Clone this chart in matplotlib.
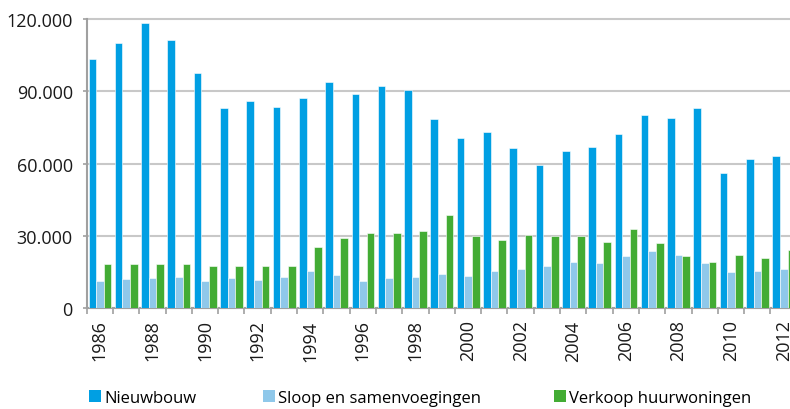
import numpy as np
import matplotlib
matplotlib.use('Agg')
import matplotlib.pyplot as plt
from matplotlib.patches import Patch
from matplotlib.ticker import FuncFormatter

plt.rcParams['font.family'] = ['Open Sans', 'DejaVu Sans']

# data
jaren = list(range(1986, 2013))
nieuwbouw = [103300, 110000, 118500, 111300, 97500, 83000, 86100, 83600, 87200,
             93900, 88900, 92300, 90500, 78500, 70600, 73000, 66600, 59600,
             65100, 66900, 72300, 80200, 78900, 83000, 56000, 61900, 63000]
sloop = [11300, 12300, 12600, 12900, 11300, 12600, 11600, 12900, 15500,
         13700, 11300, 12400, 13000, 14200, 13400, 15500, 16300, 17600,
         19200, 18900, 21600, 23800, 22300, 18800, 14900, 15500, 16200]
verkoop = [18300, 18300, 18300, 18300, 17400, 17400, 17400, 17400, 25400,
           29300, 31200, 31200, 32200, 38900, 30000, 28300, 30500, 30000,
           29900, 27600, 33000, 27200, 21600, 19400, 22000, 20700, 24200]
labels = ['Nieuwbouw', 'Sloop en samenvoegingen', 'Verkoop huurwoningen']
kleuren = ['#009fe3', '#8fc8ea', '#43ac34']

fig = plt.figure(figsize=(7.9, 4.1), dpi=100)
# assen lopen iets voorbij de rechterrand (zoals in het origineel afgesneden)
ax = fig.add_axes([86.7 / 790, 1 - 309.3 / 410, 710.1 / 790, 289.3 / 410])

x = np.arange(len(jaren))
w = 0.29
for i, (serie, kleur) in enumerate(zip([nieuwbouw, sloop, verkoop], kleuren)):
    ax.bar(x + (i - 1) * w + 0.005, serie, width=w, color=kleur,
           edgecolor='white', linewidth=0.4, zorder=3)

ax.set_xlim(-0.5, len(jaren) - 0.5)
ax.set_ylim(0, 120000)
ax.set_yticks([0, 30000, 60000, 90000, 120000])
ax.yaxis.set_major_formatter(FuncFormatter(lambda v, p: f'{int(v):,}'.replace(',', '.')))
ax.grid(axis='y', color='#c8c8c8', linewidth=1.5, zorder=0)
ax.yaxis.grid(True, clip_on=False)

# x-as: labels om het jaar, tickjes op de grenzen
ax.set_xticks(x[::2])
ax.set_xticklabels([str(j) for j in jaren[::2]], rotation=90, va='top', ha='center')
ax.set_xticks(np.arange(-0.5, len(jaren), 1), minor=True)
ax.tick_params(axis='x', which='major', length=0, pad=8, labelsize=13, colors='#1a1a1a')
ax.tick_params(axis='x', which='minor', length=4, width=1.2, color='#a0a0a0')
ax.tick_params(axis='y', length=3, width=1.2, color='#a0a0a0', pad=7,
               labelsize=13, labelcolor='#1a1a1a')

for s in ['top', 'right']:
    ax.spines[s].set_visible(False)
for s in ['left', 'bottom']:
    ax.spines[s].set_color('#a0a0a0')
    ax.spines[s].set_linewidth(1.5)

# legenda, drie losse items
posx = [89, 263, 554]
for lab, kleur, px in zip(labels, kleuren, posx):
    fig.legend([Patch(facecolor=kleur)], [lab], loc='center left',
               bbox_to_anchor=(px / 790, 1 - 399 / 410), frameon=False,
               fontsize=12, handlelength=0.7, handleheight=0.75,
               handletextpad=0.2, borderpad=0, borderaxespad=0)

fig.savefig('out.png', dpi=100)
